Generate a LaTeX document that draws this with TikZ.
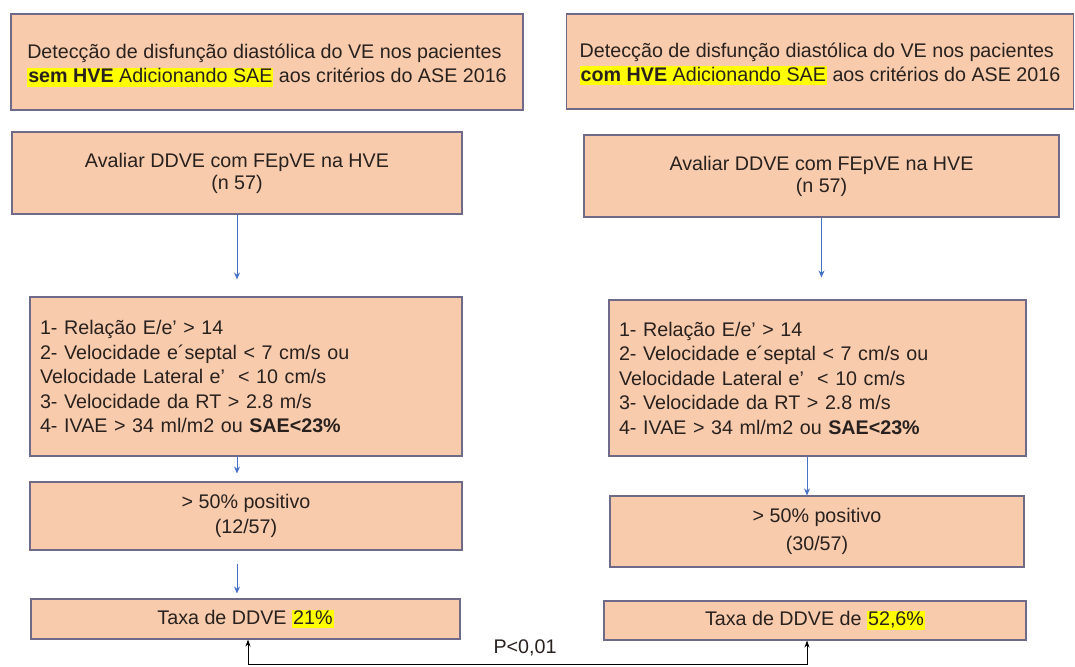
\documentclass[tikz,border=0pt]{standalone}
\usepackage{fontspec}
\setmainfont{Liberation Sans}
\definecolor{ddFill}{RGB}{248, 203, 173}
\definecolor{ddEdge}{RGB}{110, 106, 135}
\definecolor{ddBlue}{RGB}{68, 114, 196}
\definecolor{ddText}{RGB}{40, 33, 30}
\definecolor{ddHigh}{RGB}{255, 255, 0}
\usetikzlibrary{arrows.meta, positioning}
\newcommand{\hlt}[1]{{\setlength{\fboxsep}{1pt}\colorbox{ddHigh}{\rule[-3pt]{0pt}{16pt}#1}}}
\tikzset{
  ddbox/.style={rectangle, draw=ddEdge, line width=1.1pt, fill=ddFill, text=ddText, inner sep=0pt, align=center, font=\fontsize{19.7}{#1}\selectfont},
  ddbox/.default=23,
  titlebox/.style={ddbox=24, align=left, minimum height=96pt},
  critbox/.style={ddbox=24.5, align=left, inner xsep=10pt},
  flowarrow/.style={-{Stealth[length=7pt, width=6pt]}, line width=0.9pt, ddBlue},
  pbracket/.style={{Stealth[length=7pt, width=5pt]}-{Stealth[length=7pt, width=5pt]}, line width=1pt, black},
}

\begin{document}
\begin{tikzpicture}[x=1pt, y=-1pt]
  \useasboundingbox (0,0) rectangle (1075,666);

  % Titles
  \node[titlebox, minimum width=512pt] (tl) at (267, 62) {\rule{0pt}{22pt}Detecção de disfunção diastólica do VE nos pacientes\\\hlt{\textbf{sem HVE} Adicionando SAE} aos critérios do ASE 2016};
  \node[titlebox, minimum width=507pt, minimum height=95pt] (tr) at (820, 61.5) {\rule{0pt}{20pt}Detecção de disfunção diastólica do VE nos pacientes\\\hlt{\textbf{com HVE} Adicionando SAE} aos critérios do ASE 2016};

  % Evaluation
  \node[ddbox=22, minimum width=450pt, minimum height=82pt] (al) at (237, 173) {Avaliar DDVE com FEpVE na HVE\\(n 57)};
  \node[ddbox=22, minimum width=475pt, minimum height=82pt] (ar) at (821.5, 176) {Avaliar DDVE com FEpVE na HVE\\(n 57)};

  % Criteria
  \node[critbox, text width=412pt, minimum height=159pt] (cl) at (246, 376.5) {1- Relação E/e’ > 14\\2- Velocidade e´septal < 7 cm/s ou\\Velocidade Lateral e’ \ < 10 cm/s\\3- Velocidade da RT > 2.8 m/s\\4- IVAE > 34 ml/m2 ou \textbf{SAE<23\%}};
  \node[critbox, text width=397pt, minimum height=156pt] (cr) at (817.5, 378) {1- Relação E/e’ > 14\\2- Velocidade e´septal < 7 cm/s ou\\Velocidade Lateral e’ \ < 10 cm/s\\3- Velocidade da RT > 2.8 m/s\\4- IVAE > 34 ml/m2 ou \textbf{SAE<23\%}};

  % Positives
  \node[ddbox=25, minimum width=432pt, minimum height=68pt] (pl) at (246, 516) {> 50\% positivo\\(12/57)};
  \node[ddbox=28, minimum width=414pt, minimum height=71pt] (pr) at (817, 531.5) {> 50\% positivo\\(30/57)};

  % Rates
  \node[ddbox, minimum width=429pt, minimum height=40pt] (xl) at (245.5, 619) {Taxa de DDVE \hlt{21\%}};
  \node[ddbox, minimum width=422pt, minimum height=39pt] (xr) at (815, 620.5) {Taxa de DDVE de \hlt{52,6\%}};

  % Comparison
  \coordinate (pb) at (248, 664.5);
  \coordinate (qb) at (807, 664.5);
  \node[font=\fontsize{19.7}{23}\selectfont, text=ddText] (pv) at (525, 648) {P<0,01};

  % Arrows
  \draw[flowarrow, shorten >=17pt] (al.south) -- (al.south |- cl.north);
  \draw[flowarrow, shorten >=8pt] (cl.south -| al.south) -- (pl.north -| al.south);
  \draw[flowarrow, shorten <=13pt, shorten >=5pt] (pl.south -| al.south) -- (xl.north -| al.south);
  \draw[flowarrow, shorten >=22pt] (ar.south) -- (ar.south |- cr.north);
  \draw[flowarrow] (cr.south -| qb) -- (pr.north -| qb);
  \draw[pbracket] (xl.south -| pb) -- (pb) -- (qb) -- (xr.south -| qb);
\end{tikzpicture}
\end{document}
